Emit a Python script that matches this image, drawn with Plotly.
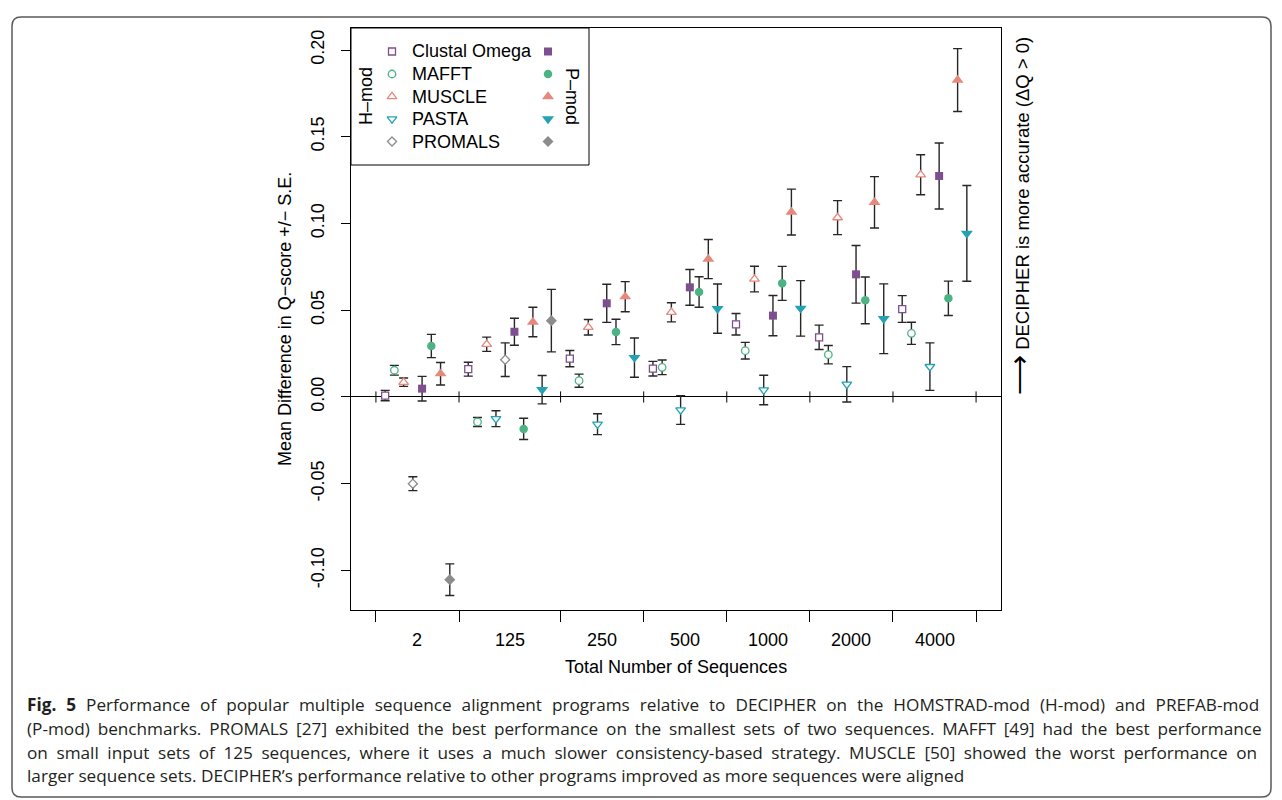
import plotly.graph_objects as go

# ---------------- data ----------------
groups = ["2", "125", "250", "500", "1000", "2000", "4000"]
programs = ["Clustal Omega", "MAFFT", "MUSCLE", "PASTA", "PROMALS"]

# H-mod (HOMSTRAD-mod) mean difference and S.E.
hmod_clustal = [0.0008, 0.0160, 0.0221, 0.0163, 0.0419, 0.0344, 0.0507]
hmod_mafft = [0.0154, -0.0144, 0.0094, 0.0171, 0.0267, 0.0244, 0.0367]
hmod_muscle = [0.0085, 0.0304, 0.0402, 0.0488, 0.0680, 0.1034, 0.1281]
hmod_pasta = [None, -0.0125, -0.0157, -0.0075, 0.0040, 0.0073, 0.0175]
hmod_promals = [-0.0500, 0.0215, None, None, None, None, None]

hmod_clustal_se = [0.0030, 0.0040, 0.0047, 0.0042, 0.0062, 0.0070, 0.0077]
hmod_mafft_se = [0.0028, 0.0026, 0.0038, 0.0042, 0.0048, 0.0053, 0.0064]
hmod_muscle_se = [0.0024, 0.0041, 0.0045, 0.0055, 0.0074, 0.0098, 0.0115]
hmod_pasta_se = [None, 0.0046, 0.0060, 0.0083, 0.0085, 0.0102, 0.0137]
hmod_promals_se = [0.0040, 0.0097, None, None, None, None, None]

# P-mod (PREFAB-mod) mean difference and S.E.
pmod_clustal = [0.0048, 0.0376, 0.0540, 0.0632, 0.0469, 0.0707, 0.1274]
pmod_mafft = [0.0294, -0.0184, 0.0375, 0.0605, 0.0655, 0.0557, 0.0569]
pmod_muscle = [0.0134, 0.0432, 0.0578, 0.0795, 0.1066, 0.1122, 0.1827]
pmod_pasta = [None, 0.0042, 0.0227, 0.0509, 0.0511, 0.0451, 0.0943]
pmod_promals = [-0.1053, 0.0440, None, None, None, None, None]

pmod_clustal_se = [0.0071, 0.0078, 0.0110, 0.0103, 0.0116, 0.0166, 0.0190]
pmod_mafft_se = [0.0067, 0.0061, 0.0073, 0.0088, 0.0098, 0.0135, 0.0099]
pmod_muscle_se = [0.0065, 0.0085, 0.0087, 0.0113, 0.0132, 0.0148, 0.0181]
pmod_pasta_se = [None, 0.0082, 0.0113, 0.0142, 0.0160, 0.0201, 0.0276]
pmod_promals_se = [0.0091, 0.0180, None, None, None, None, None]

y_tick_values = [-0.10, -0.05, 0.00, 0.05, 0.10, 0.15, 0.20]

caption = [
    "<b>Fig. 5</b> Performance of popular multiple sequence alignment programs relative to DECIPHER on the HOMSTRAD-mod (H-mod) and PREFAB-mod",
    "(P-mod) benchmarks. PROMALS [27] exhibited the best performance on the smallest sets of two sequences. MAFFT [49] had the best performance",
    "on small input sets of 125 sequences, where it uses a much slower consistency-based strategy. MUSCLE [50] showed the worst performance on",
    "larger sequence sets. DECIPHER’s performance relative to other programs improved as more sequences were aligned",
]

# ---------------- styles ----------------
colors = ["#7D4F8E", "#4CB383", "#E6887C", "#22A2B3", "#8C8C8C"]
symbols = ["square", "circle", "triangle-up", "triangle-down", "diamond"]
open_sizes = [7, 7.5, 8.5, 8.5, 7]
fill_sizes = [8, 8.5, 10.5, 10.5, 8.5]
caption_word_spacing = [5.5, 3.4, 4.1, 0]   # justified caption lines
CAPTION_FS = 17.2
FONT = "Liberation Sans, Arial, Helvetica, sans-serif"
FS = 18

H_MEAN = [hmod_clustal, hmod_mafft, hmod_muscle, hmod_pasta, hmod_promals]
H_SE = [hmod_clustal_se, hmod_mafft_se, hmod_muscle_se, hmod_pasta_se, hmod_promals_se]
P_MEAN = [pmod_clustal, pmod_mafft, pmod_muscle, pmod_pasta, pmod_promals]
P_SE = [pmod_clustal_se, pmod_mafft_se, pmod_muscle_se, pmod_pasta_se, pmod_promals_se]
BENCH = [("H", H_MEAN, H_SE), ("P", P_MEAN, P_SE)]

# slot positions: in each group H-mod programs then P-mod programs, one gap slot
pos = 0
boundaries = [0]
xpos = {("H", i): [None] * len(groups) for i in range(len(programs))}
xpos.update({("P", i): [None] * len(groups) for i in range(len(programs))})
for g in range(len(groups)):
    for b, means, _ in BENCH:
        for i in range(len(programs)):
            if means[i][g] is not None:
                pos += 1
                xpos[(b, i)][g] = pos
    pos += 1
    boundaries.append(pos)
centers = [(boundaries[k] + boundaries[k + 1]) / 2 for k in range(len(groups))]

# plot area in pixels
L, R, T, B = 351, 1001, 28, 610
W, H = 1282, 800


def X(px):
    return (px - L) / (R - L)


def Y(py):
    return (B - py) / (B - T)


def open_marker(i):
    return dict(symbol=symbols[i], size=open_sizes[i], color="white",
                line=dict(color=colors[i], width=1.3))


def fill_marker(i):
    return dict(symbol=symbols[i], size=fill_sizes[i], color=colors[i],
                line=dict(width=0))


fig = go.Figure()

for b, means, ses in BENCH:
    for i in range(len(programs)):
        xs, ys, es = [], [], []
        for g in range(len(groups)):
            if means[i][g] is not None:
                xs.append(xpos[(b, i)][g])
                ys.append(means[i][g])
                es.append(ses[i][g])
        fig.add_trace(go.Scatter(
            x=xs, y=ys, mode="markers",
            marker=open_marker(i) if b == "H" else fill_marker(i),
            error_y=dict(type="data", array=es, visible=True,
                         color="#262626", thickness=1.4, width=4.5),
            showlegend=False, hoverinfo="skip", cliponaxis=False))

# ticks crossing the zero line at group boundaries
zx, zy = [], []
for t in boundaries:
    zx += [t, t, None]
    zy += [-0.0032, 0.0032, None]
fig.add_trace(go.Scatter(x=zx, y=zy, mode="lines",
                         line=dict(color="black", width=1),
                         showlegend=False, hoverinfo="skip"))

# legend markers (pixel-coordinate overlay axes)
LEG_ROW0, LEG_DY = 51.5, 22.5
LEG_XO, LEG_XF, LEG_XT = 392, 548, 410
for i in range(len(programs)):
    ry = LEG_ROW0 + i * LEG_DY
    fig.add_trace(go.Scatter(x=[LEG_XO], y=[ry], xaxis="x2", yaxis="y2", mode="markers",
                             marker=open_marker(i), showlegend=False, hoverinfo="skip"))
    fig.add_trace(go.Scatter(x=[LEG_XF], y=[ry], xaxis="x2", yaxis="y2", mode="markers",
                             marker=fill_marker(i), showlegend=False, hoverinfo="skip"))

annotations = []
for i, name in enumerate(programs):
    annotations.append(dict(x=X(LEG_XT), y=Y(LEG_ROW0 + i * LEG_DY), xref="paper", yref="paper",
                            text=name, showarrow=False, xanchor="left", yanchor="middle",
                            font=dict(family=FONT, size=FS, color="black")))
annotations.append(dict(x=X(366), y=Y(96), xref="paper", yref="paper", text="H–mod",
                        textangle=-90, showarrow=False, xanchor="center", yanchor="middle",
                        font=dict(family=FONT, size=FS, color="black")))
annotations.append(dict(x=X(572), y=Y(96), xref="paper", yref="paper", text="P–mod",
                        textangle=90, showarrow=False, xanchor="center", yanchor="middle",
                        font=dict(family=FONT, size=FS, color="black")))

for c, lab in zip(centers, groups):
    annotations.append(dict(x=c, y=Y(640), xref="x", yref="paper", text=lab,
                            showarrow=False, xanchor="center", yanchor="middle",
                            font=dict(family=FONT, size=FS, color="black")))
annotations.append(dict(x=X(676), y=Y(667), xref="paper", yref="paper",
                        text="Total Number of Sequences", showarrow=False,
                        xanchor="center", yanchor="middle",
                        font=dict(family=FONT, size=FS, color="black")))
annotations.append(dict(x=X(285), y=Y(319), xref="paper", yref="paper",
                        text="Mean Difference in Q−score +/− S.E.", textangle=-90,
                        showarrow=False, xanchor="center", yanchor="middle",
                        font=dict(family=FONT, size=FS, color="black")))
annotations.append(dict(x=X(1020), y=0, xref="paper", yref="y",
                        text="<span style='font-size:28px'>⟶</span> DECIPHER is more accurate (ΔQ > 0)",
                        textangle=-90,
                        showarrow=False, xanchor="center", yanchor="bottom",
                        font=dict(family=FONT, size=18.5, color="black")))

CAP_Y0, CAP_DY = 704, 24
for k, line in enumerate(caption):
    txt = line
    if caption_word_spacing[k]:
        txt = f"<span style='word-spacing:{caption_word_spacing[k]}px'>{line}</span>"
    annotations.append(dict(x=X(25), y=Y(CAP_Y0 + k * CAP_DY), xref="paper", yref="paper",
                            text=txt, showarrow=False, xanchor="left", yanchor="middle",
                            font=dict(family="Open Sans, sans-serif", size=CAPTION_FS,
                                      color="#231f20")))

# outer rounded border
bl, br, bt, bb, rr = 12, 1271, 17, 797, 9
path = (f"M {X(bl+rr)},{Y(bt)} L {X(br-rr)},{Y(bt)} Q {X(br)},{Y(bt)} {X(br)},{Y(bt+rr)} "
        f"L {X(br)},{Y(bb-rr)} Q {X(br)},{Y(bb)} {X(br-rr)},{Y(bb)} "
        f"L {X(bl+rr)},{Y(bb)} Q {X(bl)},{Y(bb)} {X(bl)},{Y(bb-rr)} "
        f"L {X(bl)},{Y(bt+rr)} Q {X(bl)},{Y(bt)} {X(bl+rr)},{Y(bt)} Z")
shapes = [
    dict(type="path", path=path, xref="paper", yref="paper",
         line=dict(color="#5a5a5a", width=1.5)),
    dict(type="rect", xref="paper", yref="paper", x0=X(351), x1=X(589), y0=Y(165), y1=Y(28),
         line=dict(color="black", width=1)),
]

fig.update_layout(
    width=W, height=H,
    margin=dict(l=L, r=W - R, t=T, b=H - B, pad=0),
    paper_bgcolor="white", plot_bgcolor="white",
    font=dict(family=FONT, size=FS, color="black"),
    showlegend=False,
    annotations=annotations,
    shapes=shapes,
    xaxis=dict(range=[-2.7, 67.7], tickvals=boundaries, showticklabels=False,
               ticks="outside", ticklen=11, tickcolor="black", tickwidth=1,
               showline=True, linecolor="black", linewidth=1, mirror=True,
               showgrid=False, zeroline=False),
    yaxis=dict(range=[-0.1228, 0.2127], tickvals=y_tick_values,
               ticktext=[f"{v:.2f}" for v in y_tick_values], tickangle=-90,
               ticks="outside", ticklen=9, tickcolor="black", tickwidth=1,
               ticklabelstandoff=10,
               tickfont=dict(family=FONT, size=FS, color="black"),
               showline=True, linecolor="black", linewidth=1, mirror=True,
               showgrid=False, zeroline=True, zerolinecolor="black", zerolinewidth=1),
    xaxis2=dict(overlaying="x", range=[L, R], visible=False),
    yaxis2=dict(overlaying="y", range=[B, T], visible=False),
)

fig.write_html("out.html")
